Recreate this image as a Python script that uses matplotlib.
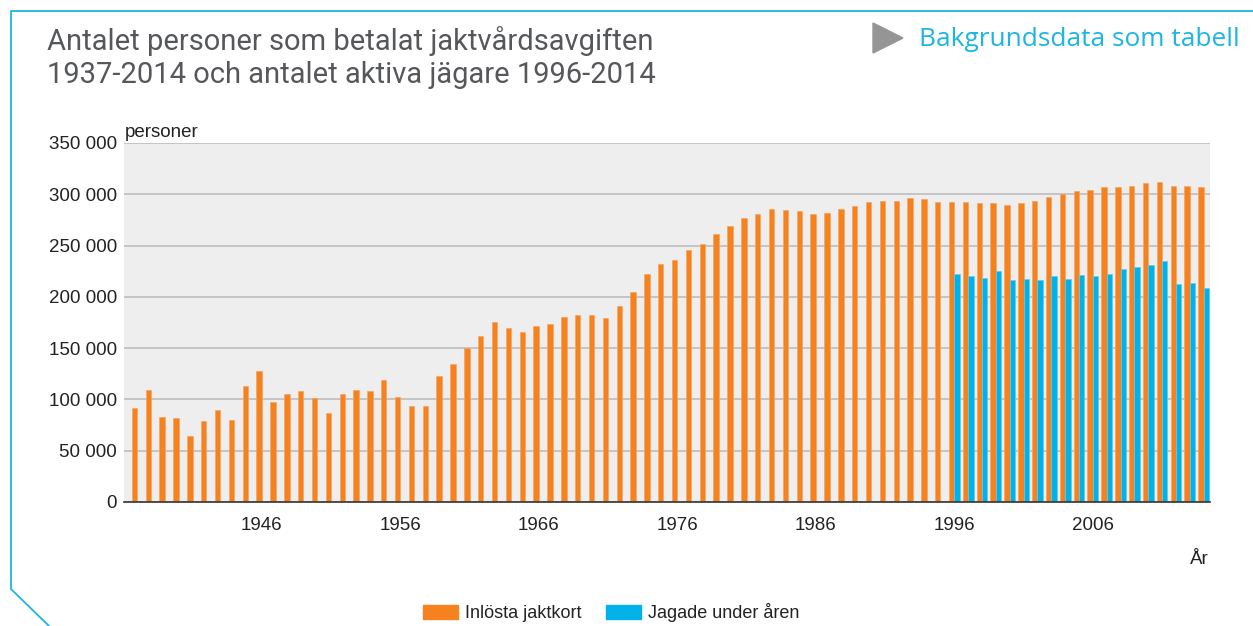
import matplotlib.pyplot as plt
from matplotlib.lines import Line2D
from matplotlib.patches import Polygon, Rectangle
from matplotlib.ticker import FuncFormatter

years = list(range(1937, 2015))

jaktkort = [
    92000, 109000, 82600, 81600, 64400, 79000, 89400, 80300, 113400, 127700,
    97500, 105300, 108200, 101100, 86800, 105300, 109200, 108200, 118600, 102700,
    93600, 93600, 122500, 134200, 150200, 161900, 175200, 169700, 165800, 171300,
    173900, 180400, 182000, 182000, 179100, 191100, 205000, 222500, 232000, 236000,
    245500, 251600, 261000, 268800, 276600, 280800, 286000, 284400, 283400, 280800,
    282100, 286000, 288600, 292200, 293800, 293800, 296400, 295100, 292200, 292200,
    292200, 291200, 291200, 289900, 291200, 293800, 297700, 300300, 302900, 304200,
    306800, 306800, 308400, 310700, 312300, 308400, 308400, 306800,
]

jagade_years = list(range(1996, 2015))
jagade = [
    222600, 220000, 218700, 225200, 216100, 217400, 216100, 220000, 217400, 221300,
    220000, 222600, 226900, 229100, 230800, 234700, 212300, 213500, 208300,
]

tick_years = [1946, 1956, 1966, 1976, 1986, 1996, 2006]
yticks = [0, 50000, 100000, 150000, 200000, 250000, 300000, 350000]

orange = '#f5821f'
blue = '#00b2e7'
cyan = '#1db5e2'

W, H = 1253, 626
fig = plt.figure(figsize=(W / 100, H / 100), dpi=100)
plt.rcParams['font.family'] = ['Liberation Sans', 'DejaVu Sans']

def fx(px):
    return px / W

def fy(py):
    return 1 - py / H

ax = fig.add_axes([fx(124), fy(502), fx(1210) - fx(124), fy(143) - fy(502)])
ax.set_facecolor('#eeeeee')

idx = [y - 1937 for y in years]
bw = 0.39
ax.bar([i - bw / 2 for i in idx], jaktkort, width=bw, color=orange,
       edgecolor='#f8a55e', linewidth=0.5, zorder=3)
bidx = [y - 1937 for y in jagade_years]
ax.bar([i + bw / 2 for i in bidx], jagade, width=bw, color=blue,
       edgecolor='#5fcdf0', linewidth=0.5, zorder=3)

ax.set_xlim(-0.95, 77.46)
ax.set_ylim(0, 350000)
ax.set_yticks(yticks)
ax.yaxis.set_major_formatter(FuncFormatter(lambda v, p: f'{int(v):,}'.replace(',', ' ')))
ax.set_xticks([y - 1937 for y in tick_years])
ax.set_xticklabels([str(y) for y in tick_years])
ax.tick_params(axis='both', length=0, labelsize=13.5, colors='#222222')
ax.tick_params(axis='x', pad=11)
ax.tick_params(axis='y', pad=5)
ax.grid(axis='y', color='#bdbdbd', linewidth=1.2, zorder=1)
for s in ['top', 'right', 'left']:
    ax.spines[s].set_visible(False)
ax.spines['bottom'].set_color('#333333')
ax.spines['bottom'].set_linewidth(1.2)
ax.spines['bottom'].set_zorder(4)

fig.text(fx(125), fy(137), 'personer', fontsize=13.5, color='#222222')
fig.text(fx(1209), fy(564), 'År', fontsize=13.5, color='#222222', ha='right')

# rubrik
fig.text(fx(47), fy(50), 'Antalet personer som betalat jaktvårdsavgiften',
         fontsize=21, color='#55575b', family='Roboto')
fig.text(fx(47), fy(83), '1937-2014 och antalet aktiva jägare 1996-2014',
         fontsize=21, color='#55575b', family='Roboto')

# länk uppe till höger
fig.add_artist(Polygon([[fx(873), fy(23)], [fx(873), fy(53)], [fx(903), fy(38)]],
                       closed=True, transform=fig.transFigure, color='#959595'))
fig.text(fx(919), fy(46), 'Bakgrundsdata som tabell', fontsize=18.9,
         color=cyan, family='Open Sans')

# ram
fig.add_artist(Line2D([fx(W), fx(11), fx(11), fx(49)],
                      [fy(11), fy(11), fy(589), fy(626)],
                      transform=fig.transFigure, color=cyan, linewidth=1.3))

# förklaring
fig.add_artist(Rectangle((fx(423), fy(619)), fx(458) - fx(423), fy(605) - fy(619),
                         transform=fig.transFigure, color=orange))
fig.text(fx(465), fy(618), 'Inlösta jaktkort', fontsize=13, color='#222222')
fig.add_artist(Rectangle((fx(606), fy(619)), fx(641) - fx(606), fy(605) - fy(619),
                         transform=fig.transFigure, color=blue))
fig.text(fx(648), fy(618), 'Jagade under åren', fontsize=13, color='#222222')

fig.savefig('out.png', dpi=100)
